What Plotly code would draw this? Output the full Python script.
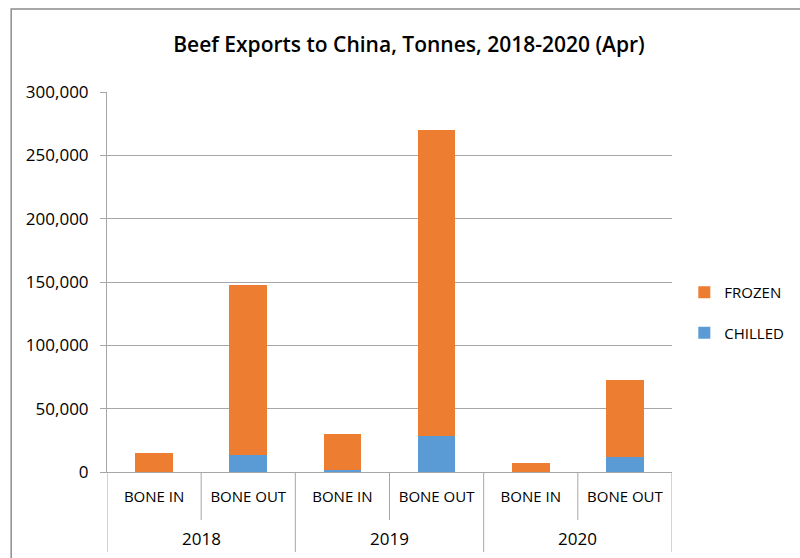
import plotly.graph_objects as go

# Beef exports to China by year and cut, tonnes
years = ["2018", "2019", "2020"]
cuts = ["BONE IN", "BONE OUT", "BONE IN", "BONE OUT", "BONE IN", "BONE OUT"]
chilled = [300, 13200, 1700, 28800, 200, 11900]
frozen = [14700, 134300, 28000, 241500, 6900, 60600]
y_ticks = [0, 50000, 100000, 150000, 200000, 250000, 300000]

W, H = 800, 558
L, R, T, B = 107, 127, 92, 86
GRAY = "#A6A6A6"
FONT = "Open Sans"
pw, ph = W - L - R, H - T - B

pos = list(range(len(cuts)))          # one slot per year/cut pair
per_year = len(cuts) // len(years)

fig = go.Figure()
fig.add_trace(go.Bar(x=pos, y=chilled, name="CHILLED",
                     marker=dict(color="#5B9BD5", line=dict(width=0)),
                     legendgroup="chilled", legendrank=2))
fig.add_trace(go.Bar(x=pos, y=frozen, name="FROZEN",
                     marker=dict(color="#ED7D31", line=dict(width=0)),
                     legendgroup="frozen", legendrank=1))


def px_to_paper_y(py):
    return (H - B - py) / ph


# outer chart frame
fig.add_shape(type="rect", xref="paper", yref="paper",
              x0=(11 - L) / pw, x1=(W + 5 - L) / pw,
              y0=px_to_paper_y(H + 5), y1=px_to_paper_y(9),
              line=dict(color="#8C8C8C", width=1.5), layer="below")

# separators below the axis: short between cuts, long between years
for i in range(len(cuts) + 1):
    long_sep = (i % per_year == 0)
    fig.add_shape(type="line", xref="x", yref="paper",
                  x0=i - 0.5, x1=i - 0.5,
                  y0=0, y1=px_to_paper_y(552 if long_sep else 520),
                  line=dict(color=GRAY, width=1))

# year labels under each pair of cuts
for k, yr in enumerate(years):
    fig.add_annotation(text=yr, xref="x", yref="paper",
                       x=k * per_year + (per_year - 1) / 2,
                       y=px_to_paper_y(538), yanchor="middle",
                       showarrow=False,
                       font=dict(family=FONT, size=17, color="#000000"))

fig.update_layout(
    width=W, height=H,
    margin=dict(l=L, r=R, t=T, b=B),
    paper_bgcolor="white", plot_bgcolor="white",
    barmode="stack", bargap=0.6,
    font=dict(family=FONT, color="#000000"),
    title=dict(text="Beef Exports to China, Tonnes, 2018-2020 (Apr)",
               x=409 / W, xanchor="center", xref="container",
               y=1 - 45 / H, yanchor="middle", yref="container",
               font=dict(family=FONT, size=21, weight=600, color="#000000")),
    legend=dict(x=1.02, y=0.42, xanchor="left", yanchor="middle",
                traceorder="grouped", tracegroupgap=18,
                font=dict(family=FONT, size=15, color="#000000"),
                bgcolor="rgba(0,0,0,0)"),
    xaxis=dict(range=[-0.5, len(cuts) - 0.5], tickvals=pos, ticktext=cuts,
               showline=True, linecolor=GRAY, linewidth=1,
               ticks="", ticklabelstandoff=11, showgrid=False, zeroline=False,
               tickfont=dict(family=FONT, size=15, color="#000000")),
    yaxis=dict(range=[0, 300000], tickvals=y_ticks, tickformat=",d",
               showgrid=True, gridcolor=GRAY, gridwidth=1,
               showline=True, linecolor=GRAY, linewidth=1,
               ticks="outside", ticklen=6, tickcolor=GRAY,
               ticklabelstandoff=8, zeroline=False,
               tickfont=dict(family=FONT, size=17, color="#000000")),
)

fig.write_html("out.html")
